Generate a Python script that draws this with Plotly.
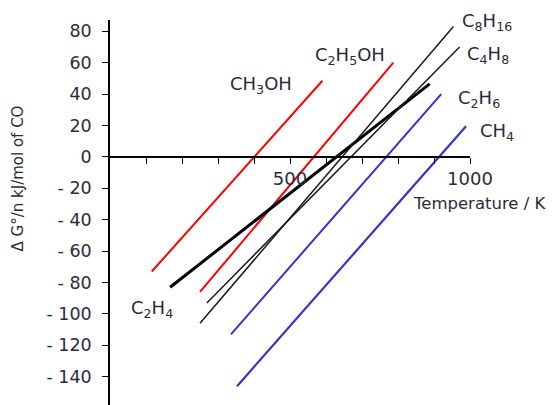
import plotly.graph_objects as go

# ---- data ----
series_names = ["CH3OH", "C2H5OH", "C2H4", "C8H16", "C4H8", "C2H6", "CH4"]
temps = {
    "CH3OH":  [116, 590],
    "C2H5OH": [250, 787],
    "C2H4":   [167, 888],
    "C8H16":  [250, 954],
    "C4H8":   [269, 971],
    "C2H6":   [336, 920],
    "CH4":    [353, 989],
}
dG = {
    "CH3OH":  [-73, 48.5],
    "C2H5OH": [-86, 60],
    "C2H4":   [-83, 46.5],
    "C8H16":  [-106, 83],
    "C4H8":   [-93, 70],
    "C2H6":   [-113, 40],
    "CH4":    [-146, 19.5],
}
colors = {"CH3OH": "#ff0000", "C2H5OH": "#ff0000", "C2H4": "#000000",
          "C8H16": "#1a1a1a", "C4H8": "#1a1a1a", "C2H6": "#3333cc", "CH4": "#3333cc"}
widths = {"CH3OH": 2, "C2H5OH": 2, "C2H4": 3, "C8H16": 1.5, "C4H8": 1.5, "C2H6": 2, "CH4": 2.2}

label_text = {
    "CH3OH": "CH<sub>3</sub>OH", "C2H5OH": "C<sub>2</sub>H<sub>5</sub>OH",
    "C2H4": "C<sub>2</sub>H<sub>4</sub>", "C8H16": "C<sub>8</sub>H<sub>16</sub>",
    "C4H8": "C<sub>4</sub>H<sub>8</sub>", "C2H6": "C<sub>2</sub>H<sub>6</sub>",
    "CH4": "CH<sub>4</sub>",
}
# label centres in data units (temperature, dG)
label_pos = {
    "CH3OH": (420, 46), "C2H5OH": (666, 64), "C2H4": (117, -97),
    "C8H16": (1048, 86), "C4H8": (1051, 65), "C2H6": (1026, 37), "CH4": (1076, 16),
}
xtitle_pos = (1028, -29.5)

x_tickvals = [100, 200, 300, 400, 500, 600, 700, 800, 900, 1000]
x_ticktext = ["", "", "", "", "500", "", "", "", "", "1000"]
y_tickvals = [80, 60, 40, 20, 0, -20, -40, -60, -80, -100, -120, -140]
y_ticktext = ["80", "60", "40", "20", "0", "- 20", "- 40", "- 60", "- 80", "- 100", "- 120", "- 140"]

XMIN, XMAX = 0, 1000
YMIN, YMAX = -158, 87.2
TXT = "#2b2b3b"
FONT = "DejaVu Sans"


def px(x):
    return (x - XMIN) / (XMAX - XMIN)


def py(y):
    return (y - YMIN) / (YMAX - YMIN)


fig = go.Figure()
for name in series_names:
    fig.add_trace(go.Scatter(x=temps[name], y=dG[name], mode="lines",
                             line=dict(color=colors[name], width=widths[name]),
                             showlegend=False, hoverinfo="skip"))

for name in series_names:
    lx, ly = label_pos[name]
    fig.add_annotation(x=px(lx), y=py(ly), xref="paper", yref="paper", text=label_text[name],
                       xanchor="center", yanchor="middle",
                       showarrow=False, font=dict(family=FONT, size=18, color=TXT))

fig.add_annotation(x=px(xtitle_pos[0]), y=py(xtitle_pos[1]), xref="paper", yref="paper",
                   text="Temperature / K", xanchor="center", yanchor="middle",
                   showarrow=False, font=dict(family=FONT, size=16.5, color=TXT))

fig.add_annotation(x=-0.256, y=0.588, xref="paper", yref="paper",
                   text="\u0394 G\u00b0/n kJ/mol of CO", textangle=-90,
                   xanchor="center", yanchor="middle",
                   showarrow=False, font=dict(family=FONT, size=15, color=TXT))

fig.update_layout(
    width=549, height=397,
    margin=dict(l=102, r=87, t=12, b=0),
    plot_bgcolor="white", paper_bgcolor="white",
    xaxis=dict(range=[XMIN, XMAX], anchor="free", position=py(0),
               showline=True, linecolor="black", linewidth=1.5,
               ticks="outside", ticklen=6, tickwidth=1.3, tickcolor="black",
               tickvals=x_tickvals, ticktext=x_ticktext,
               showgrid=False, zeroline=False,
               tickfont=dict(family=FONT, size=18, color=TXT)),
    yaxis=dict(range=[YMIN, YMAX], showline=True, linecolor="black", linewidth=1.5,
               ticks="outside", ticklen=6, tickwidth=1.3, tickcolor="black",
               tickvals=y_tickvals, ticktext=y_ticktext, ticklabelstandoff=7,
               showgrid=False, zeroline=False,
               tickfont=dict(family=FONT, size=17.5, color=TXT)),
)

fig.write_html("out.html")
